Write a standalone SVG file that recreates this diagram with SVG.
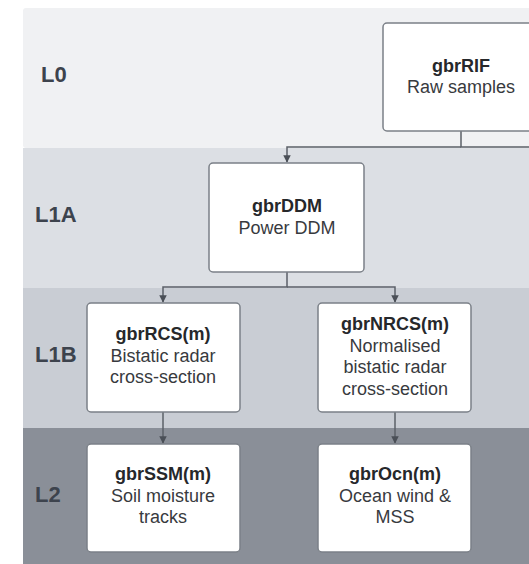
<svg xmlns="http://www.w3.org/2000/svg" width="529" height="564" viewBox="0 0 529 564">
<defs>
<style>
.band-label{font-family:"Liberation Sans",Arial,sans-serif;font-weight:bold;font-size:22px;fill:#3d434d}
.node rect{fill:#ffffff;stroke:#7b8088;stroke-width:1.5}
.node text{font-family:"Liberation Sans",Arial,sans-serif;font-size:18px;fill:#383a3e;text-anchor:middle}
.node .t{font-weight:bold;fill:#26282b}
.conn{fill:none;stroke:#5b6068;stroke-width:1.5}
</style>
<marker id="arr" viewBox="0 0 10 10" refX="9" refY="5" markerWidth="5" markerHeight="5" orient="auto" markerUnits="strokeWidth">
<path d="M0,0 L10,5 L0,10 z" fill="#4a4f57"/>
</marker>
</defs>
<rect width="529" height="564" fill="#ffffff"/>
<g id="bands">
<rect x="23" y="8" width="520" height="140" rx="3" fill="#f0f1f3"/>
<rect x="23" y="148" width="520" height="140" fill="#dcdfe4"/>
<rect x="23" y="288" width="520" height="140" fill="#c9cdd4"/>
<rect x="23" y="428" width="520" height="140" fill="#8a8f98"/>
<text class="band-label" x="41" y="82">L0</text>
<text class="band-label" x="35" y="222">L1A</text>
<text class="band-label" x="35" y="362">L1B</text>
<text class="band-label" x="35" y="502">L2</text>
</g>
<g id="connectors">
<path class="conn" d="M461,131 V147 H529"/>
<path class="conn" d="M461,147 H287 V162" marker-end="url(#arr)"/>
<path class="conn" d="M287,272 V287 H163 V302" marker-end="url(#arr)"/>
<path class="conn" d="M287,287 H395 V302" marker-end="url(#arr)"/>
<path class="conn" d="M163,412 V443" marker-end="url(#arr)"/>
<path class="conn" d="M395,412 V443" marker-end="url(#arr)"/>
</g>
<g id="gbrRIF" class="node">
<rect x="383" y="23" width="154" height="108" rx="4"/>
<text class="t" x="461" y="72">gbrRIF</text>
<text x="461" y="93">Raw samples</text>
</g>
<g id="gbrDDM" class="node">
<rect x="209" y="163" width="155" height="109" rx="4"/>
<text class="t" x="287" y="212">gbrDDM</text>
<text x="287" y="234">Power DDM</text>
</g>
<g id="gbrRCS" class="node">
<rect x="87" y="303" width="153" height="109" rx="4"/>
<text class="t" x="163" y="340">gbrRCS(m)</text>
<text x="163" y="362">Bistatic radar</text>
<text x="163" y="383">cross-section</text>
</g>
<g id="gbrNRCS" class="node">
<rect x="318" y="303" width="153" height="109" rx="4"/>
<text class="t" x="395" y="330">gbrNRCS(m)</text>
<text x="395" y="352">Normalised</text>
<text x="395" y="373">bistatic radar</text>
<text x="395" y="395">cross-section</text>
</g>
<g id="gbrSSM" class="node">
<rect x="87" y="444" width="153" height="108" rx="4"/>
<text class="t" x="163" y="480">gbrSSM(m)</text>
<text x="163" y="502">Soil moisture</text>
<text x="163" y="523">tracks</text>
</g>
<g id="gbrOcn" class="node">
<rect x="318" y="444" width="153" height="108" rx="4"/>
<text class="t" x="395" y="480">gbrOcn(m)</text>
<text x="395" y="502">Ocean wind &amp;</text>
<text x="395" y="523">MSS</text>
</g>
</svg>
